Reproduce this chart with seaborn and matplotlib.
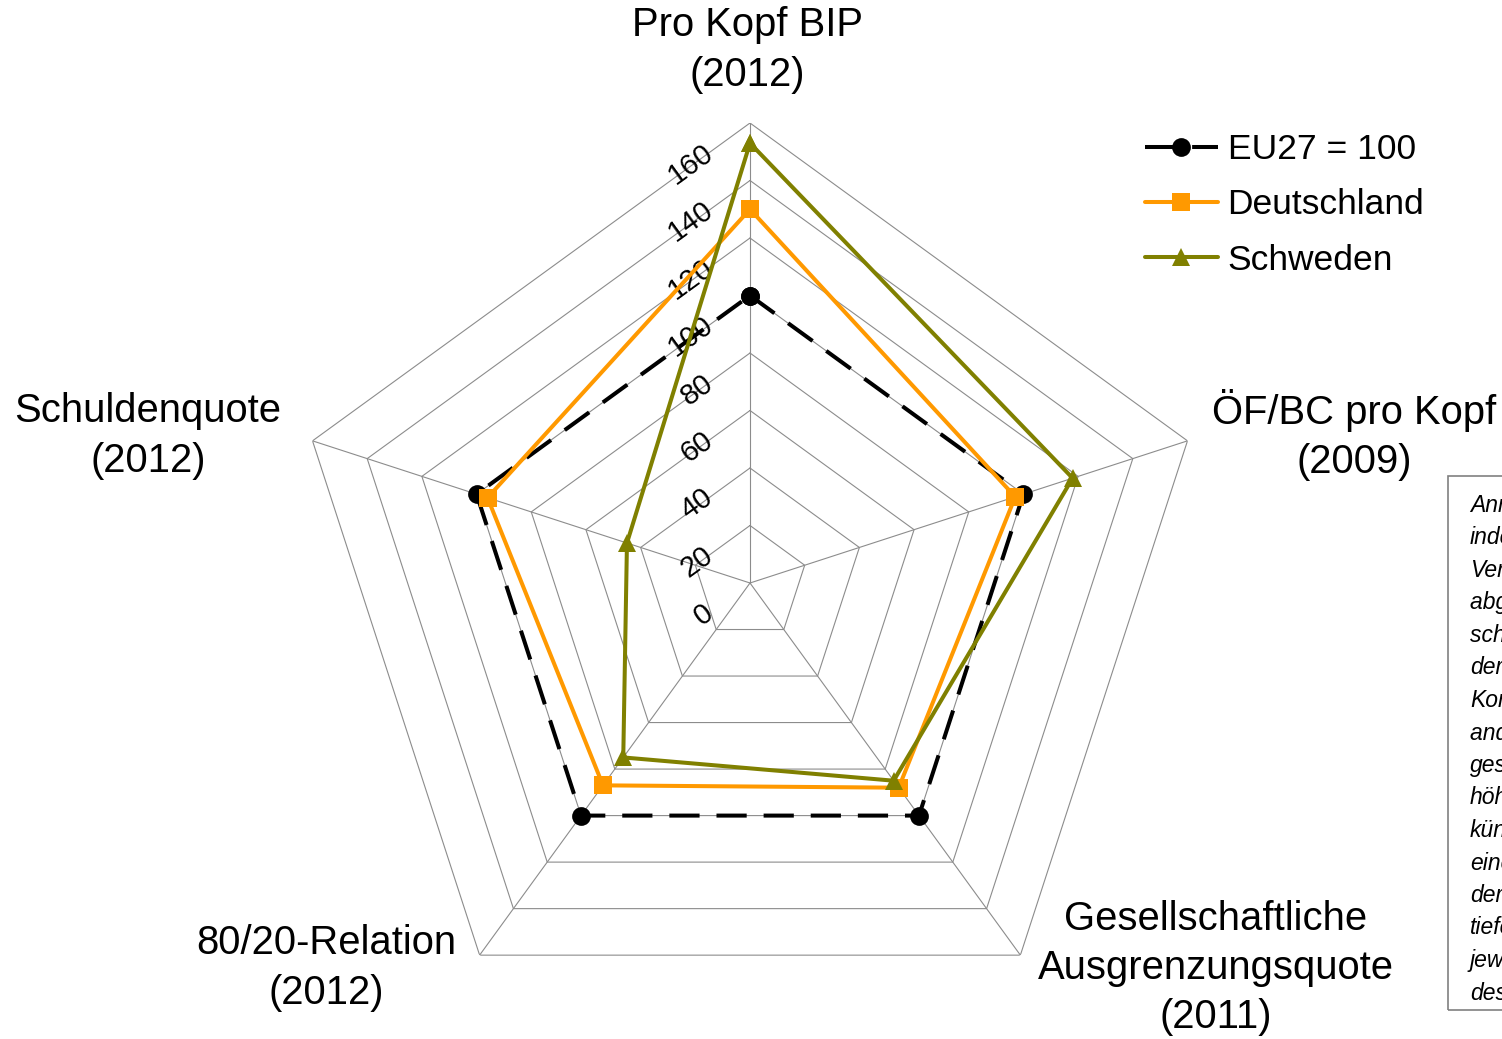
import numpy as np
import pandas as pd
import matplotlib
matplotlib.use("Agg")
import matplotlib.pyplot as plt
import matplotlib.transforms as mtrans
from matplotlib.patches import Rectangle
import seaborn as sns

# -----------------------------
# Data
# -----------------------------
categories = ["Pro Kopf BIP\n(2012)", "ÖF/BC pro Kopf\n(2009)",
              "Gesellschaftliche\nAusgrenzungsquote\n(2011)",
              "80/20-Relation\n(2012)", "Schuldenquote\n(2012)"]
series_names = ["EU27 = 100", "Deutschland", "Schweden"]
eu27 = [100, 100, 100, 100, 100]
deutschland = [130, 97, 88, 87, 96]
schweden = [153, 118, 85, 75, 45]
rings = [0, 20, 40, 60, 80, 100, 120, 140, 160]

note_lines = ["Anmerkung: Die", "indexierten", "Verteilungswerte", "abgebildet, dass",
              "schlechtere Werte", "der", "Konsolidierungs-", "anderen Werte",
              "gesellschaftlichen", "höher", "künftig", "eine", "der", "tiefer",
              "jeweiligen", "des"]

# -----------------------------
# Build long table
# -----------------------------
theta = np.linspace(0, 2 * np.pi, len(categories), endpoint=False)
theta_closed = np.append(theta, 2 * np.pi)
rows = []
for name, vals in zip(series_names, [eu27, deutschland, schweden]):
    for t, v in zip(theta_closed, vals + [vals[0]]):
        rows.append({"theta": t, "value": v, "series": name})
df = pd.DataFrame(rows)

# -----------------------------
# Figure
# -----------------------------
sns.set_theme(style="white")
plt.rcParams['font.family'] = ['Liberation Sans', 'DejaVu Sans']
plt.rcParams['text.color'] = 'black'

W, H = 1502, 1039
fig = plt.figure(figsize=(W / 100, H / 100), dpi=100)
cx, cy, R = 750, 583, 460
ax = fig.add_axes([(cx - R) / W, (H - cy - R) / H, 2 * R / W, 2 * R / H],
                  projection="polar")
ax.set_theta_offset(np.pi / 2)
ax.set_theta_direction(-1)
ax.set_axis_off()

grid_col = "#8c8c8c"
for r in rings[1:]:
    ax.plot(theta_closed, [r] * len(theta_closed), color=grid_col, lw=0.8, zorder=1)
for t in theta:
    ax.plot([t, t], [0, rings[-1]], color=grid_col, lw=0.8, zorder=1)

palette = {"EU27 = 100": "black", "Deutschland": "#ff9900", "Schweden": "#808000"}
markers = {"EU27 = 100": "o", "Deutschland": "s", "Schweden": "^"}
dashes = {"EU27 = 100": (7.5, 4.2), "Deutschland": "", "Schweden": ""}

sns.lineplot(data=df, x="theta", y="value", hue="series", style="series",
             palette=palette, markers=markers, dashes=dashes, sort=False,
             estimator=None, lw=2.9, markersize=13.5, mew=0, ax=ax,
             clip_on=False, zorder=3)
ax.set_ylim(0, rings[-1])
ax.set_xlabel("")
ax.set_ylabel("")

# radial tick labels
off = mtrans.ScaledTranslation(-0.40, -0.27, fig.dpi_scale_trans)
for r in rings:
    ax.text(0, r, str(r), transform=ax.transData + off, fontsize=21,
            rotation=36, rotation_mode="anchor", ha="right", va="center",
            color="black", zorder=2)

# category labels
label_pos = [(747, 50), (1354, 435), (1216, 968), (326, 968), (148, 436)]
for lab, (x, y) in zip(categories, label_pos):
    fig.text(x / W, 1 - y / H, lab, fontsize=28.8, ha="center", va="center",
             linespacing=1.37, multialignment="center", color="black")

# legend
sns.move_legend(ax, loc="upper left", bbox_to_anchor=(1145 / W, 1 - 133 / H),
                bbox_transform=fig.transFigure, title=None, frameon=False,
                fontsize=25.5, handlelength=2.05, handletextpad=0.28,
                labelspacing=0.63, borderpad=0, borderaxespad=0)
for txt in ax.get_legend().get_texts():
    txt.set_color("black")

# note box, cut off by the right edge
fig.patches.append(Rectangle((1448 / W, 1 - 1010 / H), 100 / W, 534 / H,
                             transform=fig.transFigure, fill=False,
                             edgecolor="#808080", lw=1.2))
for i, line in enumerate(note_lines):
    fig.text(1470 / W, 1 - (512 + 32.5 * i) / H, line, fontsize=16.5,
             style="italic", ha="left", va="baseline", color="black")

fig.savefig("out.png", dpi=100)
